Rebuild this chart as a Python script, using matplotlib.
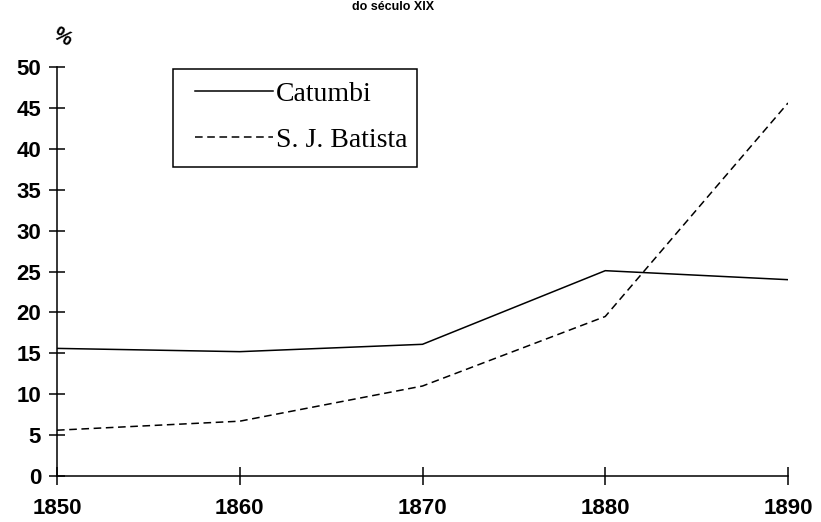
import matplotlib
matplotlib.use("Agg")
import matplotlib.pyplot as plt
from matplotlib.patches import Rectangle

# data
years = [1850, 1860, 1870, 1880, 1890]
catumbi = [15.6, 15.2, 16.1, 25.1, 24.0]
sj_batista = [5.6, 6.7, 11.0, 19.5, 45.6]
y_ticks = list(range(0, 51, 5))

W, H, DPI = 821, 522, 100
fig = plt.figure(figsize=(W / DPI, H / DPI), dpi=DPI)
fig.patch.set_facecolor("white")
# axes box in pixels: x 57..788, y 67..476 (from top)
ax = fig.add_axes([57 / W, 46 / H, (788 - 57) / W, (476 - 67) / H])

ax.plot(years, catumbi, color="black", linewidth=1.1, label="Catumbi")
ax.plot(years, sj_batista, color="black", linewidth=1.1, linestyle=(0, (5, 3)),
        label="S. J. Batista")

ax.set_xlim(1850, 1890)
ax.set_ylim(0, 50)
ax.set_xticks(years)
ax.set_yticks(y_ticks)
ax.tick_params(axis="both", direction="inout", width=1.1, color="black", labelsize=16)
ax.tick_params(axis="x", length=13, pad=9)
ax.tick_params(axis="y", length=11, pad=6)
for lab in ax.get_xticklabels() + ax.get_yticklabels():
    lab.set_fontfamily("Liberation Sans")
    lab.set_fontweight("bold")
for s in ("top", "right"):
    ax.spines[s].set_visible(False)
for s in ("left", "bottom"):
    ax.spines[s].set_linewidth(1.1)

# legend entries; the box is drawn separately (wider left margin as in the scan)
leg = ax.legend(loc="center left", bbox_to_anchor=(195 / W, 1 - 117 / H),
                bbox_transform=fig.transFigure, frameon=False,
                prop={"family": "Liberation Serif", "size": 20},
                handlelength=2.8, handletextpad=0.1, borderpad=0,
                labelspacing=0.73, borderaxespad=0)
fig.patches.append(Rectangle((173 / W, 1 - 167 / H), (417 - 173) / W, (167 - 69) / H,
                             transform=fig.transFigure, fill=False,
                             edgecolor="black", linewidth=1.1))

fig.text(62 / W, 1 - 37 / H, "%", fontsize=15, fontweight="bold",
         family="Liberation Sans", rotation=-30, ha="center", va="center")
fig.text(393 / W, 1 - 1 / H, "do século XIX", fontsize=9, fontweight="bold",
         family="Liberation Sans", ha="center", va="top")

fig.savefig("out.png", dpi=DPI, facecolor="white")
